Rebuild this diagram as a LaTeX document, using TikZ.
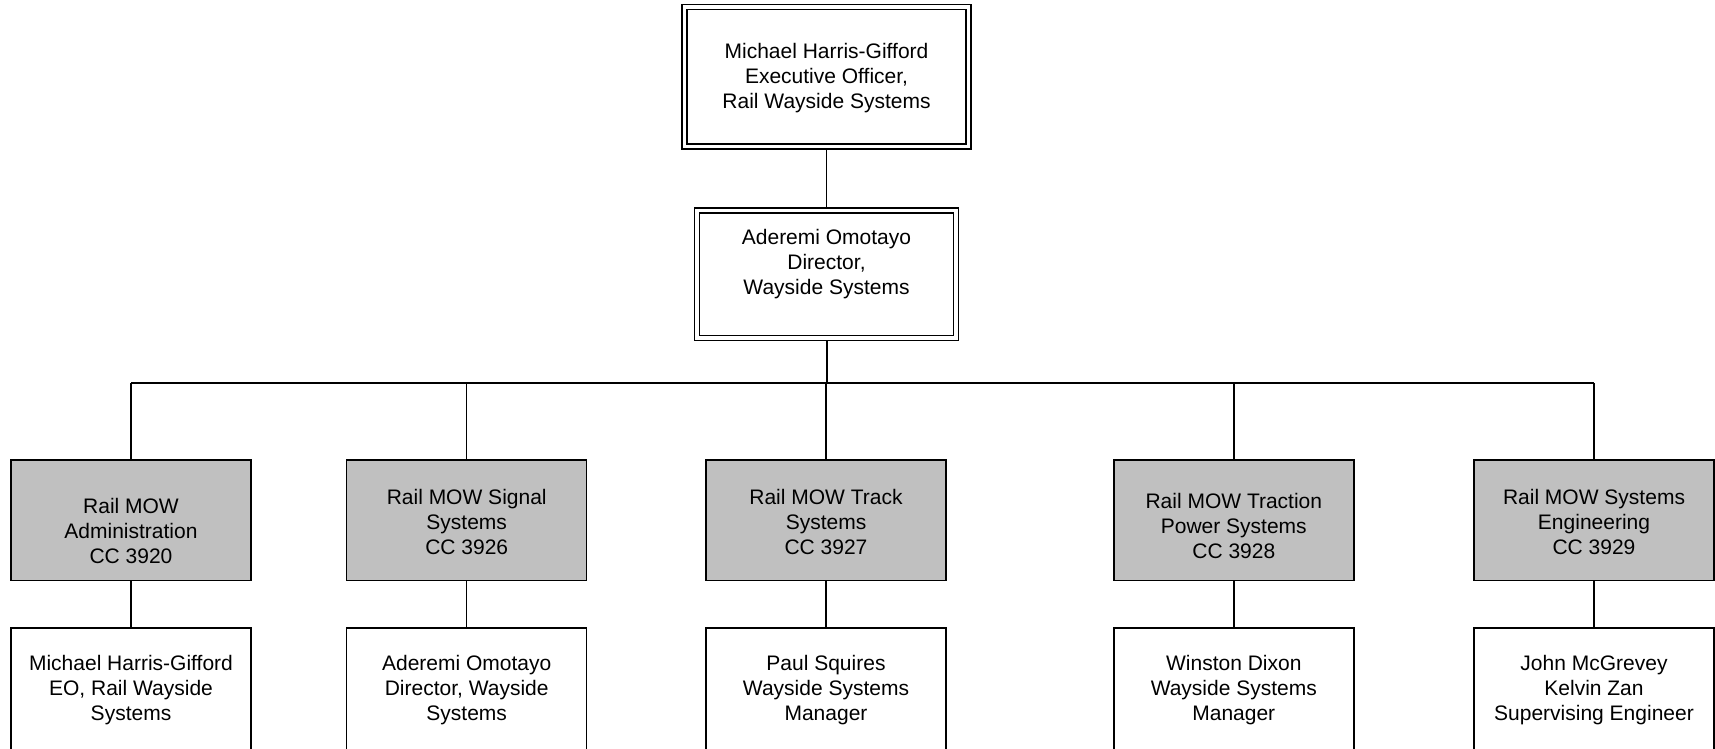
\documentclass[tikz,border=0pt]{standalone}
\usepackage{fontspec}
\setmainfont{Liberation Sans}
\definecolor{boxgray}{RGB}{192,192,192}
\begin{document}
\begin{tikzpicture}[x=1pt,y=-1pt,
  lbl/.style={align=center,inner sep=0pt,font=\fontsize{21}{25}\selectfont},
  dbox/.style={draw,line width=1.4pt,double=white,double distance=3.6pt,inner sep=0pt,outer sep=3.2pt},
  gbox/.style={draw,line width=1.5pt,fill=boxgray,minimum width=240pt,minimum height=120.5pt,inner sep=0pt},
  wbox/.style={draw,line width=1.5pt,fill=white,minimum width=240pt,minimum height=122pt,inner sep=0pt},
  link/.style={line width=1.5pt},
  buslink/.style={line width=2pt}]
\useasboundingbox (0,0) rectangle (1715,748);

% top levels
\node[dbox,minimum width=284pt,minimum height=139.5pt] (top) at (826.5,76.75) {};
\node[lbl] (topT) at (826.5,78) {Michael Harris-Gifford\\Executive Officer,\\Rail Wayside Systems};
\node[dbox,minimum width=259.5pt,minimum height=127.5pt] (dir) at (826.5,274.25) {};
\node[lbl] (dirT) at (826.5,264) {Aderemi Omotayo\\Director,\\Wayside Systems};

% gray department boxes
\node[gbox] (g1) at (131,520.25) {};
\node[gbox] (g2) at (466.7,520.25) {};
\node[gbox] (g3) at (826,520.25) {};
\node[gbox] (g4) at (1233.8,520.25) {};
\node[gbox] (g5) at (1594,520.25) {};
\node[lbl] (g1T) at (131,531) {Rail MOW\\Administration\\CC 3920};
\node[lbl] (g2T) at (466.7,521.5) {Rail MOW Signal\\Systems\\CC 3926};
\node[lbl] (g3T) at (826,521.5) {Rail MOW Track\\Systems\\CC 3927};
\node[lbl] (g4T) at (1233.8,526) {Rail MOW Traction\\Power Systems\\CC 3928};
\node[lbl] (g5T) at (1594,521.5) {Rail MOW Systems\\Engineering\\CC 3929};

% white people boxes
\node[wbox] (w1) at (131,689) {};
\node[wbox] (w2) at (466.7,689) {};
\node[wbox] (w3) at (826,689) {};
\node[wbox] (w4) at (1233.8,689) {};
\node[wbox] (w5) at (1594,689) {};
\node[lbl] (w1T) at (131,690.5) {Michael Harris-Gifford\\EO, Rail Wayside\\Systems};
\node[lbl] (w2T) at (466.7,690.5) {Aderemi Omotayo\\Director, Wayside\\Systems};
\node[lbl] (w3T) at (826,690.5) {Paul Squires\\Wayside Systems\\Manager};
\node[lbl] (w4T) at (1233.8,690.5) {Winston Dixon\\Wayside Systems\\Manager};
\node[lbl] (w5T) at (1594,690.5) {John McGrevey\\Kelvin Zan\\Supervising Engineer};

% connectors
\coordinate (bus) at (826.5,383);
\draw[link] (top.south) -- (dir.north);
\draw[buslink] (dir.south) -- (bus);
\draw[buslink] (g1.north |- bus) -- (g5.north |- bus);
\foreach \i in {1,...,5} {
  \draw[link] (g\i.north) -- (g\i.north |- bus);
  \draw[link] (g\i.south) -- (w\i.north);
}
\end{tikzpicture}
\end{document}
